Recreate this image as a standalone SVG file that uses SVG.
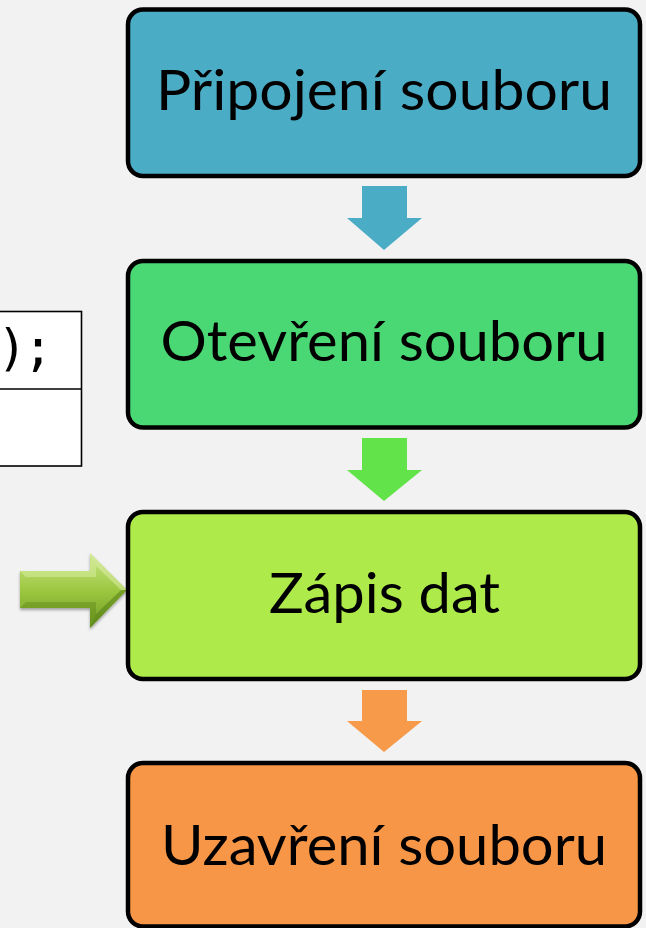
<svg xmlns="http://www.w3.org/2000/svg" width="646" height="928" viewBox="0 0 646 928">
  <style>
    .box { stroke: #000; stroke-width: 4.5; }
    .lbl { font-family: Lato, "Open Sans", "Liberation Sans", sans-serif; font-size: 56px; fill: #000; text-anchor: middle; }
    .code { font-family: "DejaVu Sans Mono", "Liberation Mono", monospace; font-size: 50px; fill: #000; letter-spacing: -4px; }
  </style>
  <defs>
    <linearGradient id="ga" x1="0" y1="0" x2="0" y2="1">
      <stop offset="0" stop-color="#c9e686"/>
      <stop offset="0.5" stop-color="#9cc740"/>
      <stop offset="1" stop-color="#6e9a22"/>
    </linearGradient>
    <filter id="sh" x="-20%" y="-20%" width="140%" height="150%">
      <feGaussianBlur in="SourceAlpha" stdDeviation="1.5"/>
      <feOffset dx="0" dy="2"/>
      <feComponentTransfer><feFuncA type="linear" slope="0.35"/></feComponentTransfer>
      <feMerge><feMergeNode/><feMergeNode in="SourceGraphic"/></feMerge>
    </filter>
  </defs>
  <rect width="646" height="928" fill="#f2f2f2"/>

  <g id="table">
    <rect x="-10" y="311.5" width="91.5" height="154.5" fill="#fff" stroke="#000" stroke-width="1.6"/>
    <line x1="-10" y1="389" x2="81.5" y2="389" stroke="#000" stroke-width="1.6"/>
    <text class="code" x="-3" y="365">);</text>
  </g>

  <g id="connectors">
    <polygon points="362,186 407,186 407,218 422,218 384,250 347,218 362,218" fill="#4bacc6"/>
    <polygon points="362,438 407,438 407,470 422,470 384,501 347,470 362,470" fill="#62e34a"/>
    <polygon points="362,690 407,690 407,721 422,721 384,752 347,721 362,721" fill="#f79a4a"/>
    <g id="side-arrow" filter="url(#sh)">
      <polygon points="20,571 90,571 90,553 127,590 90,628 90,608 20,608" fill="url(#ga)"/>
      <polygon points="20,571 90,571 90,553 96,566 96,577 26,577" fill="#d3eb98" opacity="0.6"/>
      <polygon points="20,608 90,608 90,628 96,614 96,602 26,602" fill="#5e8a1a" opacity="0.45"/>
      <polygon points="96,566 121,590 127,590 90,553" fill="#e0f0b0" opacity="0.5"/>
      <polygon points="96,614 121,590 127,590 90,628" fill="#4f7a12" opacity="0.5"/>
    </g>
  </g>

  <g id="n1">
    <rect class="box" x="128" y="9.5" width="512" height="166.5" rx="15" fill="#4bacc6"/>
    <text class="lbl" x="384" y="110" textLength="456" lengthAdjust="spacingAndGlyphs">Připojení souboru</text>
  </g>
  <g id="n2">
    <rect class="box" x="128" y="261" width="512" height="166.5" rx="15" fill="#4ad874"/>
    <text class="lbl" x="384" y="361" textLength="447" lengthAdjust="spacingAndGlyphs">Otevření souboru</text>
  </g>
  <g id="n3">
    <rect class="box" x="128" y="512" width="512" height="167" rx="15" fill="#aeea4a"/>
    <text class="lbl" x="384.5" y="613" textLength="231" lengthAdjust="spacingAndGlyphs">Zápis dat</text>
  </g>
  <g id="n4">
    <rect class="box" x="128" y="763" width="512" height="163.5" rx="15" fill="#f79646"/>
    <text class="lbl" x="384" y="865" textLength="446" lengthAdjust="spacingAndGlyphs">Uzavření souboru</text>
  </g>
</svg>
